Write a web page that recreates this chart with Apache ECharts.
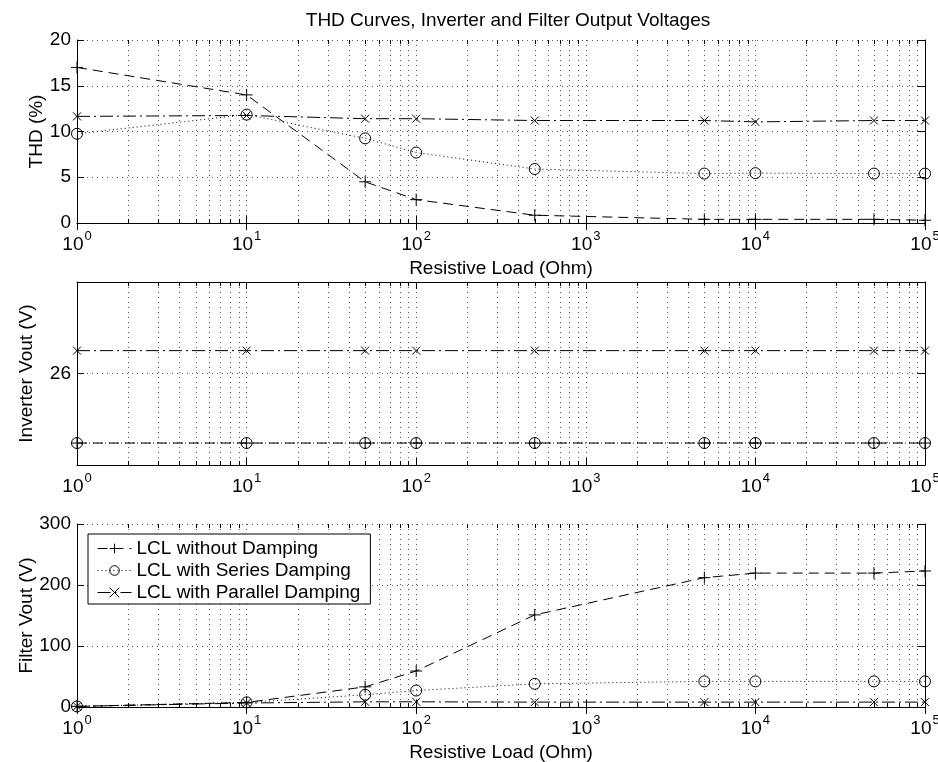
<!DOCTYPE html>
<html>
<head>
<meta charset="utf-8">
<script src="https://cdn.jsdelivr.net/npm/echarts@6/dist/echarts.min.js"></script>
<style>
  html, body { margin: 0; padding: 0; background: #fff; }
  #chart { width: 938px; height: 762px; }
</style>
</head>
<body>
<div id="chart"></div>
<script>
// Resistive load sweep (Ohm)
const loads = [1, 10, 50, 100, 500, 5000, 10000, 50000, 100000];

// THD (%)
const thdNoDamping       = [17.0, 14.0, 4.5, 2.55, 0.85, 0.4, 0.4, 0.4, 0.3];
const thdSeriesDamping   = [9.75, 11.85, 9.25, 7.7, 5.9, 5.4, 5.45, 5.4, 5.4];
const thdParallelDamping = [11.65, 11.75, 11.4, 11.4, 11.2, 11.2, 11.05, 11.2, 11.2];

// Inverter output voltage (V)
const invNoDamping       = [25.24, 25.24, 25.24, 25.24, 25.24, 25.24, 25.24, 25.24, 25.24];
const invSeriesDamping   = [25.24, 25.24, 25.24, 25.24, 25.24, 25.24, 25.24, 25.24, 25.24];
const invParallelDamping = [26.25, 26.25, 26.25, 26.25, 26.25, 26.25, 26.25, 26.25, 26.25];

// Filter output voltage (V)
const vfNoDamping       = [1, 7.5, 33, 59, 151, 212, 219.5, 219.5, 223];
const vfSeriesDamping   = [1, 7.5, 20, 27, 38, 42, 42, 42, 42];
const vfParallelDamping = [1, 6.5, 8.5, 8.5, 8, 8, 8, 8, 8];

const seriesNames = ['LCL without Damping', 'LCL with Series Damping', 'LCL with Parallel Damping'];

// Y tick labels shown on each panel
const thdTicks = [0, 5, 10, 15, 20];
const invTicks = [26];
const vfTicks  = [0, 100, 200, 300];

const FONT = "'Liberation Sans', Arial, Helvetica, sans-serif";
const FS = 19;
const GRID_COLOR = '#555';
const DOT = [1, 4];

const xMin = 1, xMax = 100000;
// minor log ticks 2..9 in every decade
const minorX = [];
for (let d = 1; d < xMax; d *= 10) {
  for (let m = 2; m <= 9; m++) minorX.push(m * d);
}

const grids = [
  { left: 77, width: 848, top: 40, height: 183, outerBoundsMode: 'none' },
  { left: 77, width: 848, top: 282, height: 183, outerBoundsMode: 'none' },
  { left: 77, width: 848, top: 524, height: 183, outerBoundsMode: 'none' }
];

const yCfg = [
  { min: 0, max: 20, interval: 5, name: 'THD (%)', gap: 31, show: v => thdTicks.includes(v) },
  { min: 25, max: 27, interval: 1, name: 'Inverter Vout (V)', gap: 41, show: v => invTicks.includes(v) },
  { min: 0, max: 300, interval: 100, name: 'Filter Vout (V)', gap: 41, show: v => vfTicks.includes(v) }
];
const xNames = ['Resistive Load (Ohm)', '', 'Resistive Load (Ohm)'];

const xAxes = [], yAxes = [];
grids.forEach((g, i) => {
  xAxes.push({
    type: 'log', logBase: 10, gridIndex: i, min: xMin, max: xMax, position: 'bottom',
    name: xNames[i], nameLocation: 'middle', nameGap: 36, nameMoveOverlap: false,
    nameTextStyle: { fontFamily: FONT, fontSize: FS, color: '#000' },
    axisLine: { show: true, lineStyle: { color: '#000', width: 1 } },
    axisTick: { show: true, inside: true, length: 7, lineStyle: { color: '#000' } },
    splitLine: { show: true, lineStyle: { color: GRID_COLOR, type: DOT, width: 1 } },
    axisLabel: {
      margin: 7,
      formatter: v => '{b|10}{e|' + Math.round(Math.log10(v)) + '}',
      rich: {
        b: { fontFamily: FONT, fontSize: FS, color: '#000', verticalAlign: 'bottom' },
        e: { fontFamily: FONT, fontSize: 13, color: '#000', verticalAlign: 'bottom', padding: [0, 0, 11, 1] }
      }
    }
  });
  xAxes.push({
    type: 'log', logBase: 10, gridIndex: i, min: xMin, max: xMax, position: 'top',
    axisLine: { show: true, lineStyle: { color: '#000', width: 1 } },
    axisTick: { show: true, inside: true, length: 7, lineStyle: { color: '#000' } },
    splitLine: { show: false }, axisLabel: { show: false }
  });
  const c = yCfg[i];
  yAxes.push({
    type: 'value', gridIndex: i, min: c.min, max: c.max, interval: c.interval, position: 'left',
    name: c.name, nameLocation: 'middle', nameGap: c.gap, nameMoveOverlap: false,
    nameTextStyle: { fontFamily: FONT, fontSize: FS, color: '#000' },
    axisLine: { show: true, lineStyle: { color: '#000', width: 1 } },
    axisTick: { show: true, inside: true, length: 7, lineStyle: { color: '#000' } },
    splitLine: { show: true, lineStyle: { color: GRID_COLOR, type: DOT, width: 1 } },
    axisLabel: {
      margin: 6, fontFamily: FONT, fontSize: FS, color: '#000',
      formatter: v => c.show(v) ? String(v) : ''
    }
  });
  yAxes.push({
    type: 'value', gridIndex: i, min: c.min, max: c.max, interval: c.interval, position: 'right',
    axisLine: { show: true, lineStyle: { color: '#000', width: 1 } },
    axisTick: { show: true, inside: true, length: 7, lineStyle: { color: '#000' } },
    splitLine: { show: false }, axisLabel: { show: false }
  });
});

const PLUS = 'path://M0,5L10,5M5,0L5,10';
const CROSS = 'path://M0,0L10,10M10,0L0,10';
const styles = [
  { symbol: PLUS, size: 12, dash: [10, 6] },
  { symbol: 'circle', size: 11, dash: [1, 3] },
  { symbol: CROSS, size: 8, dash: [13, 4, 2, 4] }
];

function lineSeries(name, styleIdx, gridIdx, values) {
  const s = styles[styleIdx];
  return {
    type: 'line', name: name,
    xAxisIndex: gridIdx * 2, yAxisIndex: gridIdx * 2,
    data: loads.map((x, k) => [x, values[k]]),
    symbol: s.symbol, symbolSize: s.size, showAllSymbol: true,
    lineStyle: { color: '#000', width: 1, type: s.dash },
    itemStyle: { color: 'rgba(0,0,0,0)', borderColor: '#000', borderWidth: 1 },
    emphasis: { disabled: true }, silent: true, z: 3
  };
}

function minorGrid(gridIdx, yMin) {
  return {
    type: 'custom', xAxisIndex: gridIdx * 2, yAxisIndex: gridIdx * 2,
    data: minorX.map(v => [v, yMin]), silent: true, z: 1, clip: false,
    renderItem: (params, api) => {
      const cs = params.coordSys;
      const x = Math.round(api.coord([api.value(0), api.value(1)])[0]) + 0.5;
      const y0 = cs.y, y1 = cs.y + cs.height;
      return {
        type: 'group', children: [
          { type: 'line', shape: { x1: x, y1: y0, x2: x, y2: y1 },
            style: { stroke: GRID_COLOR, lineWidth: 1, lineDash: DOT } },
          { type: 'line', shape: { x1: x, y1: y1, x2: x, y2: y1 - 4 },
            style: { stroke: '#000', lineWidth: 1 } },
          { type: 'line', shape: { x1: x, y1: y0, x2: x, y2: y0 + 4 },
            style: { stroke: '#000', lineWidth: 1 } }
        ]
      };
    }
  };
}

const series = [
  minorGrid(0, 0), minorGrid(1, 25), minorGrid(2, 0),
  lineSeries(seriesNames[0], 0, 0, thdNoDamping),
  lineSeries(seriesNames[1], 1, 0, thdSeriesDamping),
  lineSeries(seriesNames[2], 2, 0, thdParallelDamping),
  lineSeries(seriesNames[0], 0, 1, invNoDamping),
  lineSeries(seriesNames[1], 1, 1, invSeriesDamping),
  lineSeries(seriesNames[2], 2, 1, invParallelDamping),
  lineSeries(seriesNames[0], 0, 2, vfNoDamping),
  lineSeries(seriesNames[1], 1, 2, vfSeriesDamping),
  lineSeries(seriesNames[2], 2, 2, vfParallelDamping)
];

const chart = echarts.init(document.getElementById('chart'), null, { renderer: 'canvas' });
chart.setOption({
  animation: false,
  backgroundColor: '#fff',
  title: {
    text: 'THD Curves, Inverter and Filter Output Voltages',
    left: 503, textAlign: 'center', top: 6,
    textStyle: { fontFamily: FONT, fontSize: FS, fontWeight: 'normal', color: '#000' }
  },
  legend: {
    data: seriesNames, orient: 'vertical', left: 88, top: 534,
    padding: [5, 10, 2, 9], itemGap: 3, itemWidth: 34, itemHeight: 12,
    backgroundColor: '#fff', borderColor: '#000', borderWidth: 1, borderRadius: 0,
    lineStyle: { width: 1 },
    itemStyle: { borderWidth: 1 },
    textStyle: { fontFamily: FONT, fontSize: FS, color: '#000' },
    selectedMode: false
  },
  grid: grids,
  xAxis: xAxes,
  yAxis: yAxes,
  series: series
});
</script>
</body>
</html>
